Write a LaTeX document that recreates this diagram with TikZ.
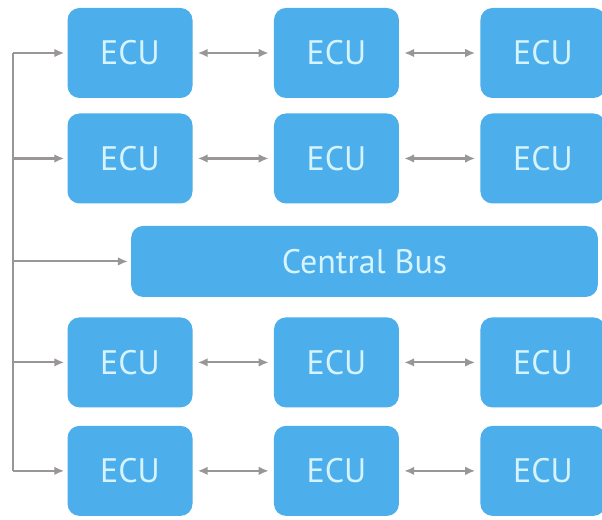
\documentclass[tikz,border=0pt]{standalone}
\usepackage{fontspec}
\setmainfont{PT Sans}
\usetikzlibrary{positioning, calc, arrows.meta}
\definecolor{ecublue}{RGB}{76,174,234}
\definecolor{ecutext}{RGB}{214,244,255}
\definecolor{wiregray}{RGB}{155,150,150}

\begin{document}
\begin{tikzpicture}[
        node distance=0.45cm and 2.43cm,
        ecu/.style={rectangle, rounded corners=0.36cm, fill=ecublue, text=ecutext, minimum width=3.75cm, minimum height=2.7cm, align=center, inner sep=0pt, font=\fontsize{29}{32}\selectfont},
        bus/.style={ecu, minimum width=14.0cm, minimum height=2.13cm},
        arrow/.style={-{Latex[length=3mm, width=2.6mm]}, wiregray, line width=1.8pt, shorten >=0.09cm},
        bidir/.style={{Latex[length=3mm, width=2.6mm]}-{Latex[length=3mm, width=2.6mm]}, wiregray, line width=1.8pt, shorten >=0.15cm, shorten <=0.15cm},
        wire/.style={wiregray, line width=1.8pt},
    ]
    \useasboundingbox (0,0) rectangle (18.06,-15.6);

    % ===== Upper ECUs =====
    \node[ecu] (E11) at (3.9,-1.59) {ECU};
    \node[ecu, right=of E11] (E12) {ECU};
    \node[ecu, right=of E12] (E13) {ECU};

    \node[ecu, below=of E11] (E21) {ECU};
    \node[ecu, right=of E21] (E22) {ECU};
    \node[ecu, right=of E22] (E23) {ECU};

    % ===== Central bus =====
    \node[bus, below=0.66cm of E22, xshift=0.84cm] (BUS) {Central Bus};

    % ===== Lower ECUs =====
    \node[ecu, below=0.6cm of E21 |- BUS.south, anchor=north] (E31) {ECU};
    \node[ecu, right=of E31] (E32) {ECU};
    \node[ecu, right=of E32] (E33) {ECU};

    \node[ecu, below=0.54cm of E31] (E41) {ECU};
    \node[ecu, right=of E41] (E42) {ECU};
    \node[ecu, right=of E42] (E43) {ECU};

    % ===== Links between neighbours =====
    \foreach \r in {1,2,3,4} {
        \draw[bidir] (E\r1) -- (E\r2);
        \draw[bidir] (E\r2) -- (E\r3);
    }

    % ===== Left feed line =====
    \coordinate (TOP) at ($(E11.west)+(-1.635,0)$);
    \coordinate (BOT) at (TOP |- E41.west);
    \draw[wire] (TOP) -- (BOT);
    \foreach \n in {E11,E21,BUS,E31,E41}
        \draw[arrow] (TOP |- \n.west) -- (\n.west);

\end{tikzpicture}
\end{document}
